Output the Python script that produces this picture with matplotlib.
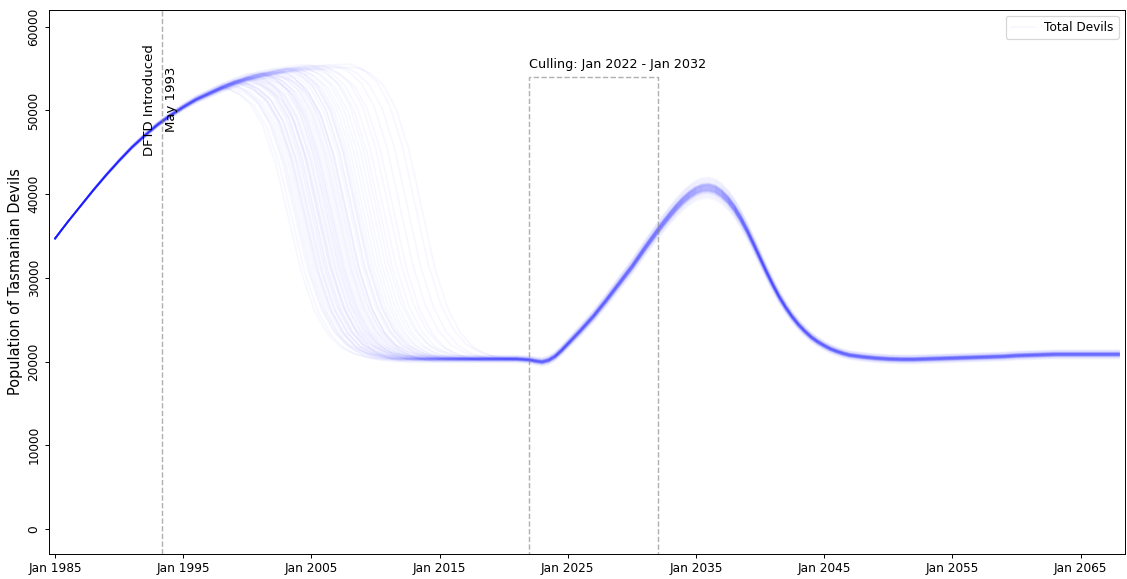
import numpy as np
import matplotlib
matplotlib.use("Agg")
import matplotlib.pyplot as plt

# === Yearly mean trajectory before the disease takes hold ===
years_pre = np.arange(1985, 2011)
base_pre = [34700, 36700, 38600, 40500, 42300, 44000, 45600, 47000, 48300,
            49400, 50400, 51300, 52000, 52700, 53300, 53800, 54200, 54500,
            54800, 55000, 55100, 55200, 55250, 55300, 55300, 55300]
spread_pre = [0, 40, 80, 120, 160, 200, 240, 280, 320, 360, 400, 440, 480,
              520, 560, 600, 600, 600, 600, 600, 600, 600, 600, 600, 600, 600]

# === Mean trajectory after the collapse (plateau, culling, recovery) ===
# yearly on the plateau and tail, half-yearly through the culling peak
years_post = np.concatenate([np.arange(2010, 2022),
                             np.arange(2022, 2047, 0.5),
                             np.arange(2047, 2069)])
base_post = [20300, 20300, 20300, 20300, 20300, 20300, 20300, 20300, 20300,
             20300, 20300, 20300,                                   # 2010-2021
             20200, 20050, 19950, 20150, 20600, 21300, 22100, 22900,
             23700, 24550, 25400, 26350, 27300, 28300, 29300, 30300,
             31300, 32400, 33500, 34550, 35600, 36600, 37550, 38450,
             39250, 39900, 40400, 40700, 40750, 40550, 40050, 39300,
             38300, 37050, 35600, 34000, 32350, 30700, 29150, 27700,
             26450, 25350, 24400, 23600, 22900, 22350, 21900, 21500,
             21200, 20950,                                          # 2022-2046.5
             20750, 20550, 20400, 20300, 20250, 20250, 20300, 20350,
             20400, 20450, 20500, 20550, 20600, 20700, 20750, 20800,
             20850, 20850, 20850, 20850, 20850, 20850]              # 2047-2068
spread_post = [400] * 12 + [
    420, 440, 470, 500, 530, 560, 590, 620, 650, 680,
    700, 730, 760, 790, 820, 850, 880, 910, 940, 970,
    1000, 1030, 1060, 1100, 1140, 1170, 1200, 1220, 1240, 1240,
    1220, 1180, 1130, 1080, 1020, 960, 900, 850, 800, 750,
    700, 660, 620, 590, 560, 540, 520, 510, 500, 500] + [500] * 22

# === Shape of the DFTD crash (fraction of the drop still remaining, per year) ===
crash_offsets = np.arange(13)
crash_frac = [1.0, 0.98, 0.94, 0.86, 0.72, 0.52, 0.32, 0.18, 0.095, 0.045,
              0.02, 0.007, 0.0]

# === Year each simulation run starts to crash, and its offset from the mean ===
crash_start = [1998.2, 1998.5, 1998.7, 1998.9, 1999.0, 1999.2, 1999.3, 1999.4,
               1999.5, 1999.6, 1999.7, 1999.8, 1999.9, 2000.0, 2000.1, 2000.2,
               2000.3, 2000.4, 2000.5, 2000.6, 2000.7, 2000.8, 2000.9, 2001.0,
               2001.1, 2001.2, 2001.3, 2001.4, 2001.5, 2001.6, 2001.7, 2001.9,
               2002.0, 2002.1, 2002.2, 2002.3, 2002.5, 2002.6, 2002.7, 2002.8,
               2003.0, 2003.1, 2003.2, 2003.4, 2003.5, 2003.6, 2003.8, 2004.0,
               2004.3, 2004.5, 2004.8, 2005.0, 2005.3, 2005.6, 2006.0, 2006.4,
               2006.9, 2007.5, 2008.1, 2008.6]
run_offset = [0.15, -0.3, 0.9, -0.1, 0.25, -0.75, 0.05, 0.4, -0.2, -0.5, 0.3,
              0.0, -0.25, 0.6, -0.05, 0.2, -0.4, 1.0, -0.15, 0.1, -1.0, 0.28,
              -0.22, 0.08, 0.5, -0.35, 0.18, -0.08, 0.38, -0.6, 0.02, -0.18,
              0.33, -0.28, 0.12, 0.8, -0.45, 0.22, -0.12, -0.85, 0.06, 0.35,
              -0.19, 0.45, -0.3, 0.11, -0.06, 0.26, -0.38, 0.16, -0.14, 0.7,
              -0.24, 0.01, 0.31, -0.55, 0.21, -0.09, 0.36, -0.31]

dftd_year = 1993 + 4 / 12
cull_start, cull_end, cull_top = 2022, 2032, 54000
tick_years = [1985, 1995, 2005, 2015, 2025, 2035, 2045, 2055, 2065]

base_pre = np.array(base_pre, dtype=float)
spread_pre = np.array(spread_pre, dtype=float)
base_post = np.array(base_post, dtype=float)
spread_post = np.array(spread_post, dtype=float)
crash_frac = np.array(crash_frac)

fig = plt.figure(figsize=(1127 / 87, 579 / 87), dpi=87)
ax = fig.add_axes([0.0435, 0.0432, 0.9545, 0.9395])

# === One line per simulation run ===
for i, (c, j) in enumerate(zip(crash_start, run_offset)):
    rise = years_pre < c
    t_rise = years_pre[rise]
    y_rise = base_pre[rise] + j * spread_pre[rise]

    start = y_rise[-1]
    plateau = base_post[0] + j * spread_post[0]
    t_crash = c + crash_offsets
    y_crash = plateau + crash_frac * (start - plateau)

    after = years_post > t_crash[-1]
    t_after = years_post[after]
    y_after = base_post[after] + j * spread_post[after]

    t = np.concatenate([t_rise, t_crash, t_after])
    y = np.concatenate([y_rise, y_crash, y_after])
    ax.plot(t, y, color="blue", alpha=0.03, linewidth=1.5,
            label="Total Devils" if i == 0 else None)

# === DFTD introduction marker ===
ax.axvline(dftd_year, color="grey", alpha=0.6, linestyle="--", linewidth=1.2)
ax.text(dftd_year - 0.1, 51300, "DFTD Introduced\nMay 1993", rotation=90,
        ha="center", va="center", multialignment="center", fontsize=11,
        linespacing=1.9)

# === Culling window ===
ax.plot([cull_start, cull_start, cull_end, cull_end],
        [-10000, cull_top, cull_top, -10000],
        color="grey", alpha=0.6, linestyle="--", linewidth=1.2)
ax.text(cull_start, cull_top + 700, "Culling: Jan 2022 - Jan 2032",
        ha="left", va="bottom", fontsize=10.5)

ax.set_xlim(1984.53, 2068.45)
ax.set_ylim(-3000, 62000)
ax.set_xticks(tick_years)
ax.set_xticklabels([f"Jan {y}" for y in tick_years])
ax.tick_params(axis="y", labelrotation=90)
for lbl in ax.get_yticklabels():
    lbl.set_va("center")
ax.set_ylabel("Population of Tasmanian Devils", fontsize=12)
ax.legend(loc="upper right")

fig.savefig("out.png", dpi=87)
